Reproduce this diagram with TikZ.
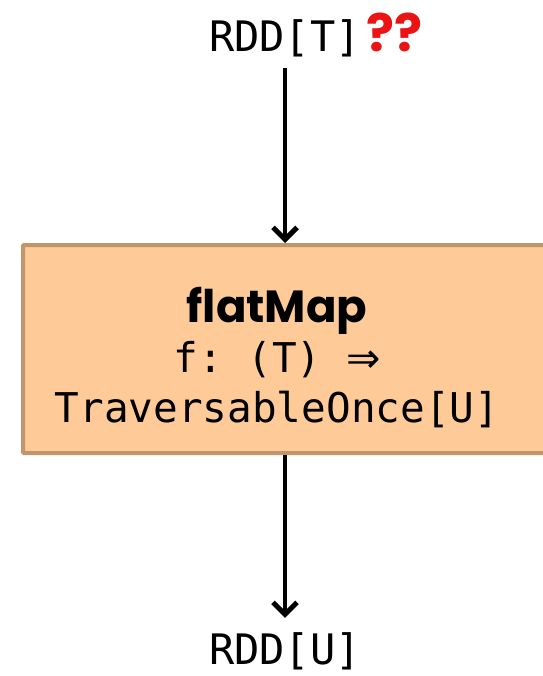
\documentclass[tikz,border=0pt]{standalone}
\usepackage{fontspec}
\setmonofont{DejaVu Sans Mono}
\newfontfamily\titlefont{Poppins}
\newfontfamily\arrowfont{DejaVu Sans}
\usepackage{tikz}
\usetikzlibrary{arrows.meta, positioning}
\definecolor{boxfill}{RGB}{254, 203, 152}
\definecolor{boxline}{RGB}{192, 150, 106}
\definecolor{warnred}{RGB}{235, 20, 20}
\tikzset{
    flow/.style={-{Straight Barb[length=12pt, width=24pt, line width=5pt]}, line width=4.5pt, black},
    typetext/.style={font=\ttfamily\fontsize{42}{50}\selectfont, inner sep=0pt}
}

\begin{document}
\begin{tikzpicture}[x=1pt, y=-1pt]
        \useasboundingbox (0, 0) rectangle (542, 676);

        % Input and output types
        \node[typetext, anchor=base] (rddT) at (285, 52) {RDD[T]};
        \node[anchor=base west, inner sep=0pt, font=\titlefont\bfseries\fontsize{52}{50}\selectfont, text=warnred] (qmarks) at ([xshift=5pt]rddT.base east) {??};
        \node[typetext, anchor=base] (rddU) at (285, 664) {RDD[U]};

        % Operation box
        \node[draw=boxline, fill=boxfill, line width=4pt, minimum width=526pt, minimum height=208pt, rounded corners=1pt] (flatmap) at (286, 349) {};
        \node[typetext, font=\ttfamily\fontsize{41}{50}\selectfont, align=center, anchor=base] (flatmaplabel) at (277, 422) {{\titlefont\bfseries\fontsize{45}{50}\selectfont flatMap}\\
            f: (T) {\arrowfont ⇒}\\
            TraversableOnce[U]};

        % Data flow
        \draw[flow] (rddT.south |- 0, 68) -- (flatmap.north -| rddT.south);
        \draw[flow] (flatmap.south -| rddU.north) -- ([yshift=14pt]rddU.north);
\end{tikzpicture}
\end{document}
